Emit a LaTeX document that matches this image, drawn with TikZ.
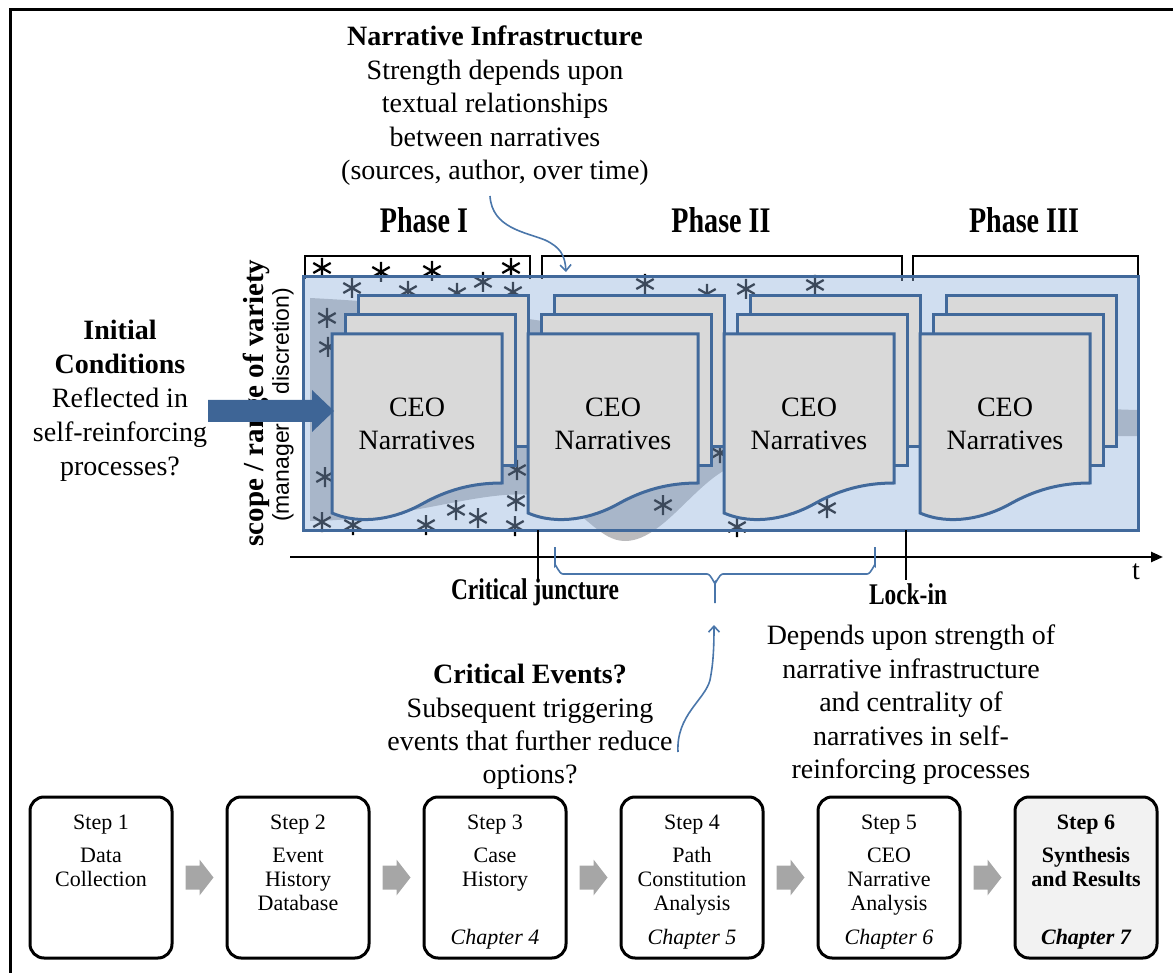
\documentclass[tikz,border=0pt]{standalone}
\usepackage{fontspec}
\setmainfont{Liberation Serif}
\newfontfamily\narrowserif[FakeStretch=0.78]{Liberation Serif}
\newfontfamily\axissans{Liberation Sans}
\usetikzlibrary{arrows.meta,calc}
\definecolor{boxblue}{RGB}{65,105,155}
\definecolor{tintblue}{RGB}{143,176,219}
\definecolor{docgray}{RGB}{217,217,217}
\definecolor{funnelgray}{RGB}{187,187,189}
\definecolor{arrowblue}{RGB}{62,101,150}
\definecolor{curveblue}{RGB}{74,118,170}
\definecolor{stepgray}{RGB}{166,166,166}
\definecolor{lastfill}{RGB}{242,242,242}
\newcommand\setsize[2]{\fontsize{#1}{#2}\selectfont}

\begin{document}
\begin{tikzpicture}[x=1pt,y=-1pt,
  every node/.style={inner sep=0pt, outer sep=0pt},
  frameline/.style={line width=3pt},
  bracketline/.style={line width=2.4pt, line join=miter},
  asterisk/.pic={\draw[line width=2.3pt] (0,-10)--(0,10) (-8.7,-5)--(8.7,5) (-8.7,5)--(8.7,-5);},
  docpage/.style={fill=docgray, draw=boxblue, line width=3pt, line join=miter},
  docstack/.pic={
    \path[docpage] (26,-38) rectangle (196,113);
    \path[docpage] (13,-19) rectangle (183,131);
    \path[docpage] (0,0) -- (170,0) -- (170,149)
       .. controls (140,149) and (115,156) .. (90,170)
       .. controls (65,184) and (30,192) .. (0,179) -- cycle;
  },
  grayarrow/.pic={
    \fill[stepgray] (-14,-12) -- (0,-12) -- (0,-18) -- (14,0) -- (0,18) -- (0,12) -- (-14,12) -- cycle;
  },
  bodytext/.style={font=\setsize{28}{33.5}, align=center},
  ceotext/.style={font=\setsize{28}{33}, align=center},
  phasetext/.style={font=\narrowserif\bfseries\setsize{36}{40}},
  marktext/.style={font=\narrowserif\bfseries\setsize{30}{34}},
  stepbox/.style={draw, line width=3pt, rounded corners=14pt, minimum width=142pt, minimum height=161pt},
  steptext/.style={font=\setsize{22}{24}, align=center, anchor=north},
  thinblue/.style={curveblue, line width=1.6pt},
  barb/.style={-{Straight Barb[length=6pt,width=11pt]}}
]
\useasboundingbox (0,0) rectangle (1173,973);

% outer frame
\draw[frameline] (10,973) -- (10,10) -- (1173,10);

% narrowing band of options
\fill[funnelgray] (310,298) .. controls (650,315) and (900,405) .. (1138,410)
  -- (1138,436) .. controls (950,436) and (780,445) .. (725,470)
  .. controls (690,490) and (660,541) .. (625,541)
  .. controls (600,541) and (585,512) .. (555,500)
  .. controls (500,480) and (420,520) .. (310,521) -- cycle;

% scattered events
\foreach \x/\y in {322/268, 381/272, 432/271, 511/268,
  352/288, 408/291, 457/293, 483/282, 513/292,
  645/284, 707/294, 746/289, 815/285,
  327/318, 328/347, 325/477,
  322/522, 353/525, 426/525, 456/510, 478/518, 516/501, 517/470, 515/526,
  663/505, 827/508, 737/527, 720/453}
  \pic at (\x,\y) {asterisk};

% phase brackets
\draw[bracketline] (305,279) -- (305,256) -- (530,256) -- (530,279);
\draw[bracketline] (542,279) -- (542,256) -- (902,256) -- (902,281);
\draw[bracketline] (913,281) -- (913,256) -- (1138,256) -- (1138,279);

% path space
\node[draw=boxblue, line width=3pt, fill=tintblue, fill opacity=0.42,
      minimum width=835pt, minimum height=253pt] (mainbox) at (720.5,403.5) {};

% narrative stacks
\pic at (332,334) {docstack};
\pic at (528,334) {docstack};
\pic at (724,334) {docstack};
\pic at (920,334) {docstack};
\node[ceotext] (ceo1) at (417,424) {CEO\\Narratives};
\node[ceotext] (ceo2) at (613,424) {CEO\\Narratives};
\node[ceotext] (ceo3) at (809,424) {CEO\\Narratives};
\node[ceotext] (ceo4) at (1005,424) {CEO\\Narratives};

% phase labels
\node[phasetext] (phase1) at (424,220) {Phase I};
\node[phasetext] (phase2) at (721,220) {Phase II};
\node[phasetext] (phase3) at (1024,220) {Phase III};

% time axis
\draw[line width=2.4pt, -{Triangle[length=12pt,width=10pt]}] (290,557) -- (1163,557);
\node[font=\setsize{28}{30}] (tlabel) at (1136,572) {t};
\draw[line width=1.8pt] (538,530) -- (538,580);
\draw[line width=1.8pt] (906,530) -- (906,580);
\node[marktext] (juncture) at (535,592) {Critical juncture};
\node[marktext] (lockin) at (908,594) {Lock-in};

% vertical axis labels
\node[rotate=90, font=\bfseries\setsize{29}{31}] (scopelabel) at (256,403) {scope / range of variety};
\node[rotate=90, font=\axissans\setsize{23}{25}] (discretion) at (283,405) {(managerial discretion)};

% initial conditions
\node[bodytext, font=\setsize{28}{34}] (initial) at (120,401)
  {\textbf{Initial}\\\textbf{Conditions}\\Reflected in\\self-reinforcing\\processes?};
\fill[arrowblue] (208,400) -- (312,400) -- (312,390) -- (334,411)
  -- (312,432) -- (312,422) -- (208,422) -- cycle;

% narrative infrastructure
\node[bodytext] (infra) at (495,106)
  {\textbf{Narrative Infrastructure}\\Strength depends upon\\textual relationships\\between narratives\\(sources, author, over time)};
\coordinate (infrafrom) at (490,196);
\coordinate (infrato) at (566,272);
\draw[thinblue, barb] (infrafrom) .. controls (492,228) and (525,232) .. (545,240)
  .. controls (560,247) and (565,255) .. (infrato);

% critical period brace
\coordinate (bracetip) at (715,603);
\draw[thinblue] (555,547) -- (555,566) to[out=90,in=180] (563,574) -- (707,574)
  to[out=0,in=-90] (715,582) -- (bracetip);
\draw[thinblue] (875,547) -- (875,566) to[out=90,in=0] (867,574) -- (723,574)
  to[out=180,in=-90] (715,582);

% critical events
\node[bodytext, font=\setsize{28}{33.4}] (events) at (530,727)
  {\textbf{Critical Events?}\\Subsequent triggering\\events that further reduce\\options?};
\coordinate (eventsfrom) at (678,752);
\coordinate (eventsto) at (714,625);
\draw[thinblue, barb] (eventsfrom) .. controls (676,715) and (705,700) .. (710,680)
  .. controls (713,665) and (714,650) .. (eventsto);

% lock-in dependence
\node[bodytext] (depends) at (911,705)
  {Depends upon strength of\\narrative infrastructure\\and centrality of\\narratives in self-\\reinforcing processes};

% research steps
\node[stepbox] (step1) at (101,877.5) {};
\node[stepbox] (step2) at (298,877.5) {};
\node[stepbox] (step3) at (495,877.5) {};
\node[stepbox] (step4) at (692,877.5) {};
\node[stepbox] (step5) at (889,877.5) {};
\node[stepbox, fill=lastfill] (step6) at (1086,877.5) {};

\node[steptext] (t1) at (101,813) {\strut Step 1};
\node[steptext] (t2) at (298,813) {\strut Step 2};
\node[steptext] (t3) at (495,813) {\strut Step 3};
\node[steptext] (t4) at (692,813) {\strut Step 4};
\node[steptext] (t5) at (889,813) {\strut Step 5};
\node[steptext] (t6) at (1086,813) {\strut\textbf{Step 6}};

\node[steptext] (b1) at (101,846) {\strut Data\\\strut Collection};
\node[steptext] (b2) at (298,846) {\strut Event\\\strut History\\\strut Database};
\node[steptext] (b3) at (495,846) {\strut Case\\\strut History};
\node[steptext] (b4) at (692,846) {\strut Path\\\strut Constitution\\\strut Analysis};
\node[steptext] (b5) at (889,846) {\strut CEO\\\strut Narrative\\\strut Analysis};
\node[steptext] (b6) at (1086,846) {\strut\textbf{Synthesis}\\\strut\textbf{and Results}};

\node[steptext] (c3) at (495,928) {\strut\itshape Chapter 4};
\node[steptext] (c4) at (692,928) {\strut\itshape Chapter 5};
\node[steptext] (c5) at (889,928) {\strut\itshape Chapter 6};
\node[steptext] (c6) at (1086,928) {\strut\bfseries\itshape Chapter 7};

\pic at ($(step1.east)!0.5!(step2.west)$) {grayarrow};
\pic at ($(step2.east)!0.5!(step3.west)$) {grayarrow};
\pic at ($(step3.east)!0.5!(step4.west)$) {grayarrow};
\pic at ($(step4.east)!0.5!(step5.west)$) {grayarrow};
\pic at ($(step5.east)!0.5!(step6.west)$) {grayarrow};
\end{tikzpicture}
\end{document}
